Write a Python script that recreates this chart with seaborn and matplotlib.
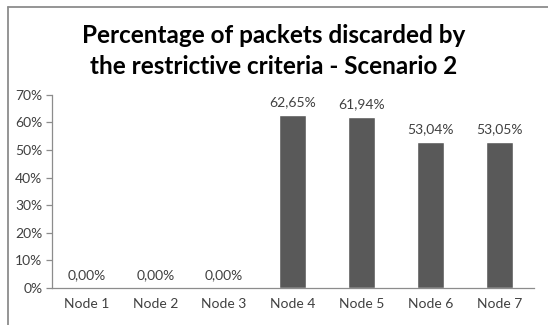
import matplotlib
matplotlib.use("Agg")
import matplotlib.pyplot as plt
import seaborn as sns
import pandas as pd
from matplotlib.lines import Line2D

nodes = ["Node 1", "Node 2", "Node 3", "Node 4", "Node 5", "Node 6", "Node 7"]
discarded = [0.00, 0.00, 0.00, 62.65, 61.94, 53.04, 53.05]
y_ticks = [0, 10, 20, 30, 40, 50, 60, 70]

df = pd.DataFrame({"node": nodes, "pct": discarded})

sns.set_theme(style="white")
plt.rcParams["font.family"] = ["Lato", "DejaVu Sans"]

fig = plt.figure(figsize=(5.48, 3.25), dpi=100)
ax = fig.add_axes([0.095, 0.114, 0.879, 0.594])

sns.barplot(data=df, x="node", y="pct", color="#595959", saturation=1,
            width=0.39, ax=ax)

ax.set_ylim(0, 70)
ax.set_xlim(-0.5, len(nodes) - 0.5)
ax.set_yticks(y_ticks)
ax.set_yticklabels([f"{t}%" for t in y_ticks])
ax.set_xlabel("")
ax.set_ylabel("")

for s in ["top", "right"]:
    ax.spines[s].set_visible(False)
for s in ["left", "bottom"]:
    ax.spines[s].set_color("#8c8c8c")
    ax.spines[s].set_linewidth(0.9)

ax.tick_params(axis="y", which="major", length=4, width=0.9, color="#8c8c8c",
               labelsize=10, labelcolor="#404040", pad=3, left=True)
ax.tick_params(axis="x", length=0, labelsize=10, labelcolor="#404040", pad=7)

for i, v in enumerate(discarded):
    ax.text(i, v + 2.5, f"{v:.2f}%".replace(".", ","), ha="center", va="bottom",
            fontsize=10, color="#404040")

fig.text(0.5, 0.843, "Percentage of packets discarded by\nthe restrictive criteria - Scenario 2",
         ha="center", va="center", fontsize=17.5, fontweight="bold",
         color="#000000", linespacing=1.4)

# chart frame (top and left edges)
fig.add_artist(Line2D([7.5 / 548, 7.5 / 548], [0, 1 - 6.5 / 325],
                      transform=fig.transFigure, color="#8c8c8c", lw=1.3))
fig.add_artist(Line2D([7.5 / 548, 1], [1 - 6.5 / 325, 1 - 6.5 / 325],
                      transform=fig.transFigure, color="#8c8c8c", lw=1.3))

fig.savefig("out.png", dpi=100, facecolor="white")
